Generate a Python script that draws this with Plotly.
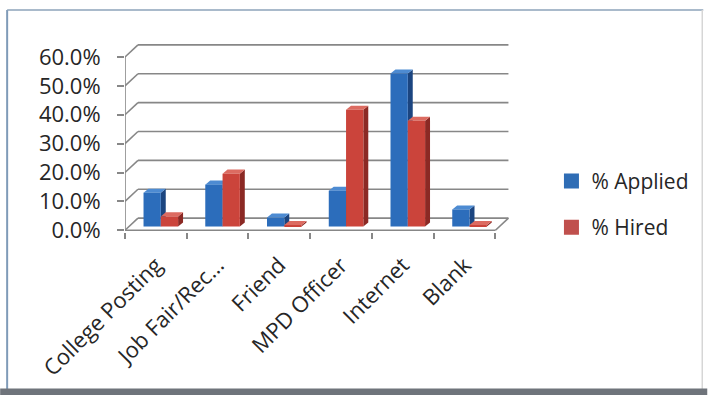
import plotly.graph_objects as go

# ---- data ----
categories = ["College Posting", "Job Fair/Rec...", "Friend", "MPD Officer", "Internet", "Blank"]
pct_applied = [0.117, 0.145, 0.031, 0.124, 0.530, 0.059]
pct_hired = [0.035, 0.183, 0.005, 0.404, 0.366, 0.005]
y_ticks = [0.0, 0.1, 0.2, 0.3, 0.4, 0.5, 0.6]
y_ticktext = ["0.0%", "10.0%", "20.0%", "30.0%", "40.0%", "50.0%", "60.0%"]
series_names = ["% Applied", "% Hired"]

# ---- style / geometry (pseudo-3D depth) ----
W, H = 708, 395
L, PW = 125, 389.5           # plot left and width (px)
Y0, YMIN, YMAX = 231.7, -0.006, 0.645
T = 44
B = H - Y0
R = W - L - PW
DX, DY = 0.21, 0.042         # back-wall offset (data units)
SDX, SDY = 0.08, 0.014       # bar depth offset
BASE = 0.013
BW = 0.28
OFF_A, OFF_H = -0.2, 0.08
GRID = "#878787"
FONT = "Open Sans"
TXT = "#262626"

blue = dict(front="#2c6dbb", side="#1b4580", top="#4d8bd2", legend="#2f6db5")
red = dict(front="#cb443b", side="#8b2924", top="#dc6b61", legend="#c0504d")

n = len(categories)
xs = list(range(n))

shapes = []

def line(x0, y0, x1, y1, color=GRID, width=1.6):
    shapes.append(dict(type="line", xref="x", yref="y", x0=x0, y0=y0, x1=x1, y1=y1,
                       line=dict(color=color, width=width), layer="below"))

# back wall gridlines + side-wall connectors
for v in y_ticks:
    line(-0.5 + DX, v + DY, n - 0.5 + DX, v + DY)
    line(-0.5, v, -0.5 + DX, v + DY)
# floor
line(-0.5, 0, n - 0.5, 0)
line(n - 0.5, 0, n - 0.5 + DX, DY)
# front vertical axis
line(-0.5, 0, -0.5, 0.6)

def poly(pts, color):
    d = "M " + " L ".join(f"{px},{py}" for px, py in pts) + " Z"
    shapes.append(dict(type="path", xref="x", yref="y", path=d,
                       fillcolor=color, line=dict(width=0), layer="below"))

def bar_faces(vals, off, col):
    for i, v in enumerate(vals):
        x0 = i + off
        x1 = x0 + BW
        top = BASE + v
        poly([(x1, BASE), (x1 + SDX, BASE + SDY), (x1 + SDX, top + SDY), (x1, top)], col["side"])
        poly([(x0, top), (x1, top), (x1 + SDX, top + SDY), (x0 + SDX, top + SDY)], col["top"])

bar_faces(pct_applied, OFF_A, blue)
bar_faces(pct_hired, OFF_H, red)

# frame around chart (paper coords)
def px2x(px):
    return (px - L) / PW

def py2y(py):
    return (H - B - py) / (H - T - B)

paper_shapes = [
    dict(type="line", x0=px2x(7), x1=px2x(7), y0=py2y(10), y1=py2y(389), line=dict(color="#7f9bb8", width=2)),
    dict(type="line", x0=px2x(7), x1=px2x(704), y0=py2y(10), y1=py2y(10), line=dict(color="#8da3ba", width=1.5)),
    dict(type="line", x0=px2x(703), x1=px2x(703), y0=py2y(10), y1=py2y(389), line=dict(color="#d6d6d6", width=1.5)),
    dict(type="rect", x0=px2x(0), x1=px2x(708), y0=py2y(388), y1=py2y(396), fillcolor="#6f747b", line=dict(width=0)),
]
for s in paper_shapes:
    s.update(xref="paper", yref="paper", layer="above")
    shapes.append(s)

fig = go.Figure()
fig.add_trace(go.Bar(x=xs, y=pct_applied, base=BASE, offset=OFF_A, width=BW, name=series_names[0],
                     marker=dict(color=blue["front"], line=dict(width=0)), showlegend=False))
fig.add_trace(go.Bar(x=xs, y=pct_hired, base=BASE, offset=OFF_H, width=BW, name=series_names[1],
                     marker=dict(color=red["front"], line=dict(width=0)), showlegend=False))
# legend entries (square swatches)
for nm, col, grp in [(series_names[0], blue, "a"), (series_names[1], red, "h")]:
    fig.add_trace(go.Scatter(x=[None], y=[None], mode="markers", name=nm, legendgroup=grp,
                             marker=dict(symbol="square", size=15, color=col["legend"]),
                             hoverinfo="skip"))
# invisible trace for category boundary ticks
fig.add_trace(go.Scatter(x=[-0.5, n - 0.5], y=[None, None], xaxis="x2", showlegend=False,
                         hoverinfo="skip"))

fig.update_layout(
    width=W, height=H,
    margin=dict(l=L, r=R, t=T, b=B, pad=0),
    paper_bgcolor="white", plot_bgcolor="rgba(0,0,0,0)",
    barmode="overlay",
    font=dict(family=FONT, size=22, color=TXT),
    shapes=shapes,
    showlegend=True,
    legend=dict(x=px2x(552), xanchor="left", y=py2y(204), yanchor="middle",
                traceorder="grouped", tracegroupgap=16,
                font=dict(family=FONT, size=21, color=TXT), bgcolor="rgba(0,0,0,0)"),
    xaxis=dict(range=[-0.5, n - 0.5 + 0.3], tickmode="array", tickvals=xs, ticktext=categories,
               tickangle=-45, showgrid=False, zeroline=False, showline=False, ticks="",
               ticklabelstandoff=15, tickfont=dict(size=22), fixedrange=True),
    xaxis2=dict(range=[-0.5, n - 0.5 + 0.3], overlaying="x", anchor="y", side="bottom",
                tickmode="array", tickvals=[i - 0.5 for i in range(n + 1)], ticks="outside",
                ticklen=6, tickwidth=1.6, tickcolor=GRID, showticklabels=False,
                showgrid=False, zeroline=False, showline=False),
    yaxis=dict(range=[YMIN, YMAX], tickmode="array", tickvals=y_ticks, ticktext=y_ticktext,
               ticks="outside", ticklen=7, tickwidth=1.6, tickcolor=GRID, tickfont=dict(size=22),
               ticklabelstandoff=12, showgrid=False, zeroline=False, showline=False),
)

fig.write_html("out.html")
